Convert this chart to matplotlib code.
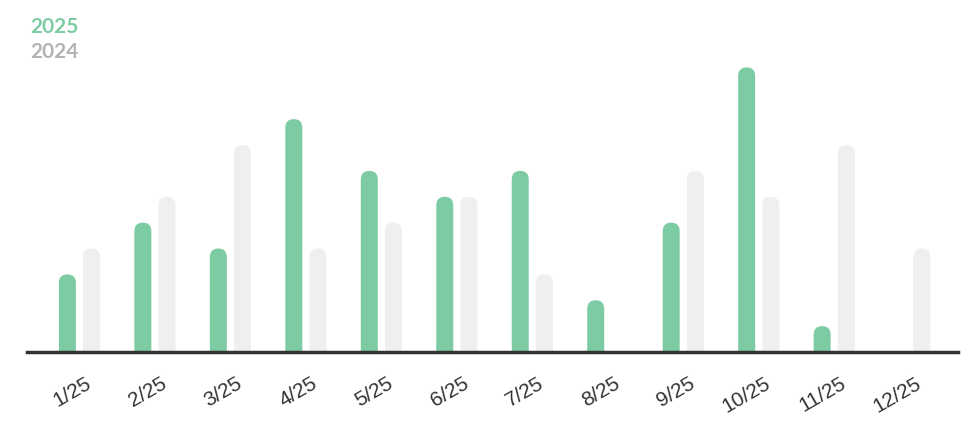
import matplotlib
import matplotlib.pyplot as plt
from matplotlib.patches import FancyBboxPatch
import matplotlib.transforms as mtransforms

matplotlib.use("Agg")

months = ["1/25", "2/25", "3/25", "4/25", "5/25", "6/25",
          "7/25", "8/25", "9/25", "10/25", "11/25", "12/25"]
values_2025 = [3, 5, 4, 9, 7, 6, 7, 2, 5, 11, 1, 0]
values_2024 = [4, 6, 8, 4, 5, 6, 3, 0, 7, 6, 8, 4]

GREEN = "#7ccba2"
GRAY_BAR = "#efefef"
GRAY_TEXT = "#b3b3b3"

W, H = 978, 428
fig = plt.figure(figsize=(W / 100, H / 100), dpi=100)
ax = fig.add_axes([27 / W, 1 - 352 / H, (958 - 27) / W, (352 - 41.5) / H])

xlim = (-0.695, 11.64)
ylim = (0, 12)
ax.set_xlim(*xlim)
ax.set_ylim(*ylim)

bar_w = 0.225
offset = 0.16
# aspect so that the rounded top is a half circle
px_per_x = (958 - 27) / (xlim[1] - xlim[0])
px_per_y = (352 - 41.5) / (ylim[1] - ylim[0])
aspect = px_per_x / px_per_y
r = bar_w / 2


def draw_bar(x, h, color):
    if h <= 0:
        return
    # extend below zero so only the top corners look rounded (clipped by axes)
    p = FancyBboxPatch(
        (x - bar_w / 2, -1), bar_w, h + 1,
        boxstyle=f"round,pad=0,rounding_size={r}",
        mutation_aspect=aspect,
        linewidth=0, facecolor=color,
    )
    ax.add_patch(p)


for i, (a, b) in enumerate(zip(values_2025, values_2024)):
    draw_bar(i - offset, a, GREEN)
    draw_bar(i + offset, b, GRAY_BAR)

for s in ["top", "right", "left"]:
    ax.spines[s].set_visible(False)
ax.spines["bottom"].set_color("#333333")
ax.spines["bottom"].set_linewidth(2.5)
ax.set_yticks([])
ax.set_xticks(range(len(months)))
ax.set_xticklabels(months, rotation=30, ha="right", va="baseline",
                   rotation_mode="anchor",
                   fontsize=15, color="#333333", family="Liberation Sans")
ax.tick_params(axis="x", length=0, pad=25)
shift = mtransforms.ScaledTranslation(13 / 100, 0, fig.dpi_scale_trans)
for lbl in ax.get_xticklabels():
    lbl.set_transform(lbl.get_transform() + shift)

fig.text(30 / W, 1 - 27 / H, "2025", color=GREEN, fontsize=15,
         fontweight="bold", family="Lato", va="center", ha="left")
fig.text(30 / W, 1 - 52 / H, "2024", color=GRAY_TEXT, fontsize=15,
         fontweight="bold", family="Lato", va="center", ha="left")

fig.savefig("out.png", dpi=100)
